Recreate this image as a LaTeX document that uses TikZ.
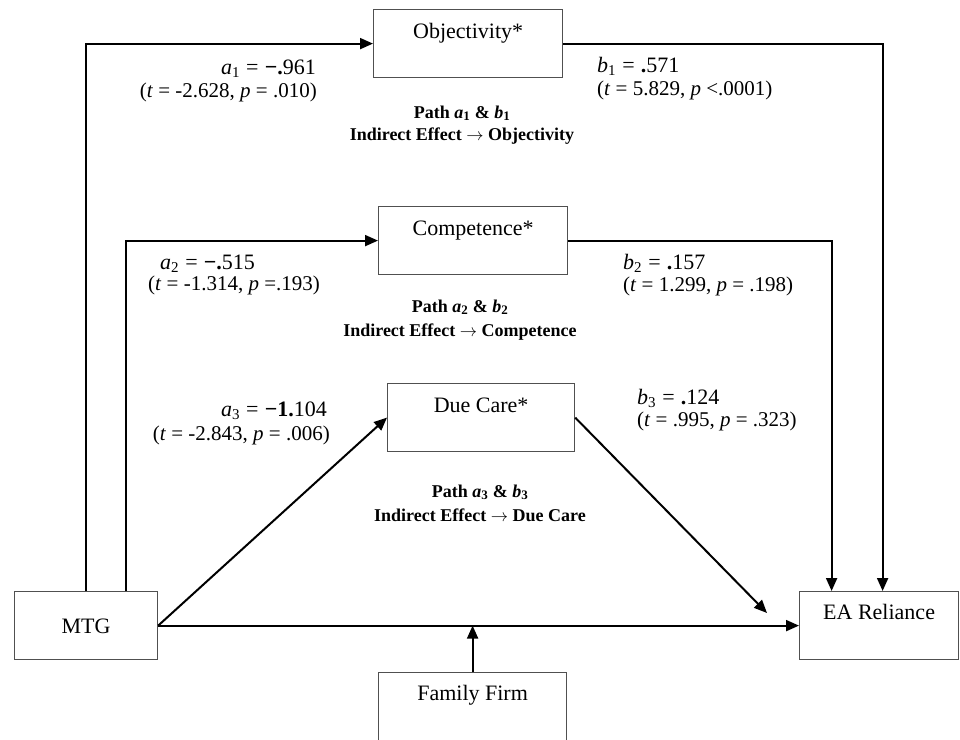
\documentclass[tikz,border=0pt]{standalone}
\usepackage{fontspec}
\setmainfont{Liberation Serif}
\usetikzlibrary{arrows.meta}
\definecolor{boxgray}{HTML}{505050}
\newcommand{\mysub}[1]{\textsubscript{\fontsize{15}{15}\selectfont #1}}
\newcommand{\psub}[1]{\textsubscript{\fontsize{13}{13}\selectfont #1}}
\newcommand{\myeq}{\hspace{0.28em}=\hspace{0.28em}}
\begin{document}
\begin{tikzpicture}[x=1pt,y=-1pt,
  vbox/.style={draw=boxgray,line width=1.2pt,inner xsep=0pt,inner ysep=0pt,minimum height=68pt,anchor=north west,font=\fontsize{22}{26}\selectfont,text height=29pt,text depth=39pt},
  conn/.style={line width=2pt,-{Triangle[length=13pt,width=11pt]}},
  stat/.style={font=\fontsize{21}{24}\selectfont,inner sep=0pt},
  coef/.style={font=\fontsize{22}{24}\selectfont,inner sep=0pt},
  pathlbl/.style={font=\fontsize{18}{22}\selectfont\bfseries,inner sep=0pt,anchor=base}]
\clip (0,0) rectangle (960,739);
% boxes
\node[vbox,minimum width=189pt] (obj) at (373,9) {Objectivity*};
\node[vbox,minimum width=189pt] (comp) at (378,206) {Competence*};
\node[vbox,minimum width=187pt] (due) at (387,383) {Due Care*};
\node[vbox,minimum width=143pt,text height=42pt,text depth=26pt] (mtg) at (14,591) {MTG};
\node[vbox,minimum width=159pt,text height=28pt,text depth=40pt] (ea) at (799,591) {EA Reliance};
\node[vbox,minimum width=188pt,minimum height=110pt,text height=28pt,text depth=82pt] (ff) at (378,672) {Family Firm};
% connectors
\draw[conn] (mtg.north) |- (obj.west);
\draw[conn] ([xshift=40pt]mtg.north) |- (comp.west);
\draw[conn] (obj.east) -| ([xshift=3.5pt]ea.north);
\draw[conn] (comp.east) -| ([xshift=-47.5pt]ea.north);
\draw[conn] (mtg.east) -- (due.west);
\coordinate (dueend) at (767,613);
\draw[conn] (due.east) -- (dueend);
\draw[conn] (mtg.east) -- (ea.west);
\draw[conn] (ff.north) -- (ff.north |- mtg.east);
% statistics
\node[coef,anchor=base east] (a1l) at (316,74) {\textit{a}\mysub{1}\myeq\textbf{−.}961};
\node[stat,anchor=base east] (a1t) at (317,97) {(\textit{t} = -2.628, \textit{p} = .010)};
\node[coef,anchor=base west] (b1l) at (597,72) {\textit{b}\mysub{1}\myeq\textbf{.}571};
\node[stat,anchor=base west] (b1t) at (597,95) {(\textit{t} = 5.829, \textit{p} <.0001)};
\node[coef,anchor=base west] (a2l) at (160,269) {\textit{a}\mysub{2}\myeq\textbf{−.}515};
\node[stat,anchor=base west] (a2t) at (148,290) {(\textit{t} = -1.314, \textit{p} =.193)};
\node[coef,anchor=base west] (b2l) at (623,269) {\textit{b}\mysub{2}\myeq\textbf{.}157};
\node[stat,anchor=base west] (b2t) at (623,291) {(\textit{t} = 1.299, \textit{p} = .198)};
\node[coef,anchor=base east] (a3l) at (327,416) {\textit{a}\mysub{3}\myeq\textbf{−1.}104};
\node[stat,anchor=base east] (a3t) at (330,440) {(\textit{t} = -2.843, \textit{p} = .006)};
\node[coef,anchor=base west] (b3l) at (637,404) {\textit{b}\mysub{3}\myeq\textbf{.}124};
\node[stat,anchor=base west] (b3t) at (637,426) {(\textit{t} = .995, \textit{p} = .323)};
% path labels
\node[pathlbl] (p1a) at (462,118) {Path \textit{a}\psub{1} \& \textit{b}\psub{1}};
\node[pathlbl] (p1b) at (462,140) {Indirect Effect $\rightarrow$ Objectivity};
\node[pathlbl] (p2a) at (460,312) {Path \textit{a}\psub{2} \& \textit{b}\psub{2}};
\node[pathlbl] (p2b) at (460,336) {Indirect Effect $\rightarrow$ Competence};
\node[pathlbl] (p3a) at (480,497) {Path \textit{a}\psub{3} \& \textit{b}\psub{3}};
\node[pathlbl] (p3b) at (480,521) {Indirect Effect $\rightarrow$ Due Care};
\end{tikzpicture}
\end{document}
